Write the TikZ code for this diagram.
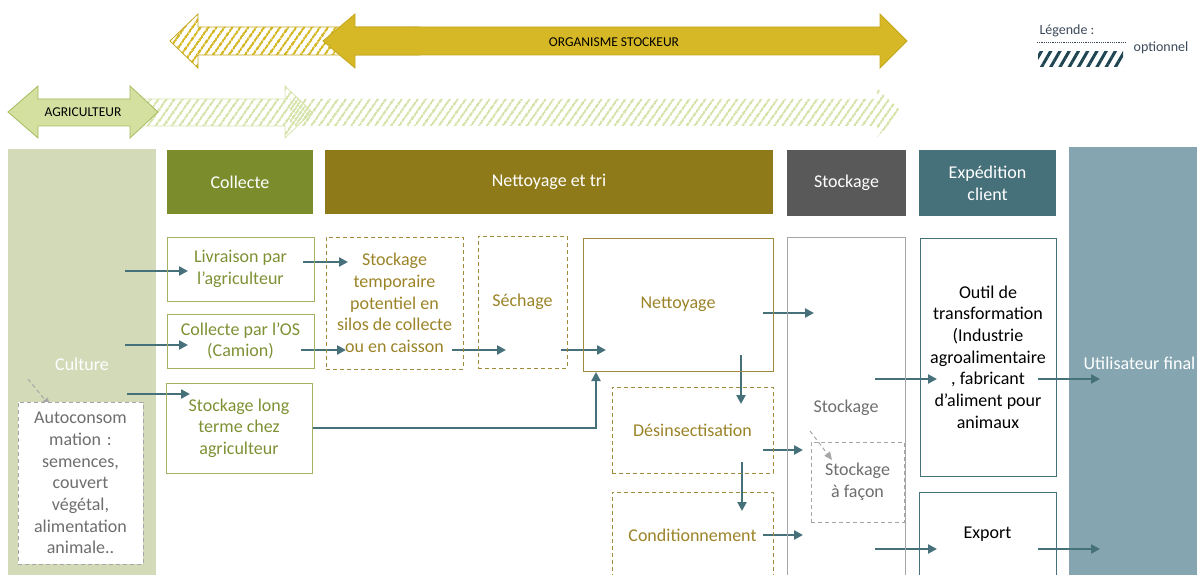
\documentclass[tikz,border=0pt]{standalone}
\usepackage{fontspec}
\setmainfont{Carlito}
\usepackage{xcolor}
\usetikzlibrary{arrows.meta}
\usetikzlibrary{patterns.meta}
\usetikzlibrary{backgrounds,positioning}
\pgfdeclarelayer{edgelayer}
\pgfdeclarelayer{nodelayer}
\pgfsetlayers{background,edgelayer,nodelayer,main}
\definecolor{culturegreen}{RGB}{211,218,184}
\definecolor{collecteolive}{RGB}{123,140,44}
\definecolor{tribrown}{RGB}{143,122,25}
\definecolor{stockgrey}{RGB}{89,89,89}
\definecolor{expteal}{RGB}{70,112,122}
\definecolor{userblue}{RGB}{133,166,177}
\definecolor{flowteal}{RGB}{70,112,122}
\definecolor{txtolive}{RGB}{125,145,52}
\definecolor{boxolive}{RGB}{163,178,96}
\definecolor{txtgold}{RGB}{155,131,40}
\definecolor{boxgold}{RGB}{160,139,60}
\definecolor{txtgrey}{RGB}{110,110,110}
\definecolor{boxgrey}{RGB}{166,166,166}
\definecolor{osyellow}{RGB}{214,184,38}
\definecolor{osyellowline}{RGB}{196,166,30}
\definecolor{agrigreen}{RGB}{211,224,160}
\definecolor{agrigreenline}{RGB}{165,188,95}
\definecolor{hatchgreen}{RGB}{214,228,172}
\definecolor{legslate}{RGB}{59,74,90}
\definecolor{leghatch}{RGB}{31,68,82}
\tikzstyle{none}=[inner sep=0mm]
\tikzstyle{txt}=[font=\fontsize{18}{21.7}\selectfont, align=center]
\tikzstyle{column}=[txt, inner sep=0pt, text=white]
\tikzstyle{head}=[txt, inner sep=0pt, text=white]
\tikzstyle{olivebox}=[txt, inner sep=0pt, draw=boxolive, line width=1pt, text=txtolive]
\tikzstyle{goldbox}=[txt, inner sep=0pt, draw=boxgold, line width=1pt, text=txtgold]
\tikzstyle{optgold}=[goldbox, dash pattern=on 4pt off 3pt]
\tikzstyle{greybox}=[txt, inner sep=0pt, draw=boxgrey, line width=1pt, text=txtgrey]
\tikzstyle{optgrey}=[greybox, fill=white, dash pattern=on 4pt off 3pt]
\tikzstyle{tealbox}=[txt, inner sep=0pt, draw=flowteal, line width=1pt, text=black]
\tikzstyle{flow}=[draw=flowteal, line width=2.6pt, -{Triangle[length=9pt,width=9pt]}]
\tikzstyle{optflow}=[draw=boxgrey, line width=1pt, dash pattern=on 4pt off 3pt, -{Triangle[length=8pt,width=7pt]}]
\tikzstyle{band}=[font=\fontsize{13.5}{16}\selectfont, inner sep=0pt]
\tikzstyle{legtext}=[band, text=legslate, font=\fontsize{14}{16}\selectfont]
\tikzset{
	hatch/.style={pattern={Lines[angle=55,distance=6.5pt,line width=2.6pt]}, pattern color=#1}
}

\begin{document}
\begin{tikzpicture}[x=1pt, y=-1pt]
	\useasboundingbox (0, 0) rectangle (1197, 575);
	% actor bands
	\draw [hatch=osyellow, draw=osyellowline, line width=0.8pt] (170, 41) -- (198, 14) -- (198, 27) -- (420, 27) -- (420, 55) -- (198, 55) -- (198, 68) -- cycle;
	\draw [fill=osyellow, draw=osyellowline, line width=0.8pt] (323, 41) -- (355, 14) -- (355, 27) -- (880, 27) -- (880, 14) -- (907, 41) -- (880, 68) -- (880, 55) -- (355, 55) -- (355, 68) -- cycle;
	\fill [hatch=hatchgreen] (290, 99) -- (877, 99) -- (877, 88) -- (902, 112) -- (877, 137) -- (877, 126) -- (290, 126) -- cycle;
	\draw [hatch=hatchgreen, draw=hatchgreen, line width=0.8pt] (130, 99) -- (285, 99) -- (285, 86) -- (312, 112) -- (285, 138) -- (285, 126) -- (130, 126) -- cycle;
	\draw [fill=agrigreen, draw=agrigreenline, line width=0.8pt] (8, 112) -- (38, 86) -- (38, 99) -- (130, 99) -- (130, 86) -- (158, 112) -- (130, 138) -- (130, 126) -- (38, 126) -- (38, 138) -- cycle;
	\node [style=band] (os) at (614, 42) {ORGANISME STOCKEUR};
	\node [style=band] (agri) at (83, 112) {AGRICULTEUR};
	% legende
	\node [style=legtext] (leg) at (1067, 31) {Légende :};
	\node [style=legtext] (optleg) at (1161, 48) {optionnel};
	\coordinate (dl) at (1037, 42);
	\coordinate (dr) at (1126, 42);
	\draw [legslate, line width=0.8pt, dash pattern=on 1.2pt off 1pt] (dl) to (dr);
	\fill [pattern={Lines[angle=60,distance=8pt,line width=3pt]}, pattern color=leghatch] (1038, 52) rectangle (1123, 67);
	\begin{pgfonlayer}{background}
		\node [style=column, fill=culturegreen, minimum width=148pt, minimum height=431pt] (culture) at (82, 364.5) {Culture};
		\node [style=column, fill=userblue, minimum width=141pt, minimum height=433pt] (user) at (1139.5, 363.5) {Utilisateur final};
		\node [style=head, fill=collecteolive, minimum width=146pt, minimum height=64pt] (hcollecte) at (240, 182) {Collecte};
		\node [style=head, fill=tribrown, minimum width=448pt, minimum height=64pt] (htri) at (549, 182) {Nettoyage et tri};
		\node [style=head, fill=stockgrey, minimum width=119pt, minimum height=66pt] (hstock) at (846.5, 183) {Stockage};
		\node [style=head, fill=expteal, minimum width=137pt, minimum height=66pt] (hexp) at (987.5, 183) {Expédition\\client};
	\end{pgfonlayer}
	\begin{pgfonlayer}{nodelayer}
		\node [style=optgrey, text width=118pt, minimum width=125pt, minimum height=162pt] (autoconso) at (80.5, 483) {Autoconsom\\mation :\\semences,\\couvert\\végétal,\\alimentation\\animale..};
		\node [style=olivebox, minimum width=147pt, minimum height=64pt] (livraison) at (240.5, 269) {Livraison par\\l’agriculteur};
		\node [style=olivebox, minimum width=147pt, minimum height=54pt] (collecteos) at (240.5, 341) {Collecte par l’OS\\(Camion)};
		\node [style=olivebox, minimum width=146pt, minimum height=90pt] (stocklong) at (239, 428) {Stockage long\\terme chez\\agriculteur};
		\node [style=optgold, minimum width=137pt, minimum height=132pt] (stocktemp) at (394.5, 303) {Stockage\\temporaire\\potentiel en\\silos de collecte\\ou en caisson};
		\node [style=optgold, minimum width=89pt, minimum height=132pt] (sechage) at (522.5, 302) {Séchage};
		\node [style=goldbox, minimum width=190pt, minimum height=133pt] (nettoyage) at (678, 304.5) {Nettoyage};
		\node [style=optgold, minimum width=161pt, minimum height=86pt] (desinsect) at (692.5, 430) {Désinsectisation};
		\node [style=optgold, minimum width=161pt, minimum height=86pt] (condition) at (692.5, 535) {Conditionnement};
		\node [style=greybox, minimum width=118pt, minimum height=353pt] (stockage) at (846, 413.5) {};
		\node [style=none, txt, text=txtgrey] (stocklabel) at (846, 408) {Stockage};
		\node [style=optgrey, fill=none, minimum width=93pt, minimum height=80pt] (facon) at (857.5, 482) {Stockage\\à façon};
		\node [style=tealbox, minimum width=136pt, minimum height=238pt] (outil) at (988, 357) {Outil de\\transformation\\(Industrie\\agroalimentaire\\, fabricant\\d’aliment pour\\animaux};
		\node [style=tealbox, minimum width=137pt, minimum height=84pt] (export) at (987.5, 534) {Export};
		\node [style=none] (c1) at (125, 271) {};
		\node [style=none] (l1) at (188, 271) {};
		\node [style=none] (c2) at (125, 345) {};
		\node [style=none] (o1) at (188, 345) {};
		\node [style=none] (c3) at (127, 394) {};
		\node [style=none] (s1) at (190, 394) {};
		\node [style=none] (l2) at (303, 262) {};
		\node [style=none] (t1) at (348, 262) {};
		\node [style=none] (o2) at (301, 350) {};
		\node [style=none] (t2) at (346, 350) {};
		\node [style=none] (t3) at (452, 350) {};
		\node [style=none] (e1) at (506, 350) {};
		\node [style=none] (e2) at (561, 350) {};
		\node [style=none] (n1) at (606, 350) {};
		\node [style=none] (n2) at (596, 372) {};
		\node [style=none] (n3) at (763, 313) {};
		\node [style=none] (k1) at (814, 313) {};
		\node [style=none] (n4) at (741, 355) {};
		\node [style=none] (d1) at (741, 404) {};
		\node [style=none] (d2) at (763, 450) {};
		\node [style=none] (k2) at (803, 450) {};
		\node [style=none] (d3) at (742, 462) {};
		\node [style=none] (q1) at (742, 511) {};
		\node [style=none] (q2) at (763, 535) {};
		\node [style=none] (k3) at (803, 535) {};
		\node [style=none] (k4) at (875, 379) {};
		\node [style=none] (x1) at (937, 379) {};
		\node [style=none] (x2) at (1038, 379) {};
		\node [style=none] (u1) at (1100, 379) {};
		\node [style=none] (k5) at (875, 549) {};
		\node [style=none] (x3) at (937, 549) {};
		\node [style=none] (x4) at (1038, 549) {};
		\node [style=none] (u2) at (1100, 549) {};
		\node [style=none] (c4) at (28, 379) {};
		\node [style=none] (a1) at (50, 406) {};
		\node [style=none] (k6) at (810, 431) {};
		\node [style=none] (f1) at (832, 460) {};
	\end{pgfonlayer}
	\begin{pgfonlayer}{edgelayer}
		\draw [style=flow] (c1.center) to (l1.center);
		\draw [style=flow] (c2.center) to (o1.center);
		\draw [style=flow] (c3.center) to (s1.center);
		\draw [style=flow] (l2.center) to (t1.center);
		\draw [style=flow] (o2.center) to (t2.center);
		\draw [style=flow] (t3.center) to (e1.center);
		\draw [style=flow] (e2.center) to (n1.center);
		\draw [style=flow, line width=2pt] (stocklong.east) -| (n2.center);
		\draw [style=flow] (n3.center) to (k1.center);
		\draw [style=flow] (n4.center) to (d1.center);
		\draw [style=flow] (d2.center) to (k2.center);
		\draw [style=flow] (d3.center) to (q1.center);
		\draw [style=flow] (q2.center) to (k3.center);
		\draw [style=flow] (k4.center) to (x1.center);
		\draw [style=flow] (x2.center) to (u1.center);
		\draw [style=flow] (k5.center) to (x3.center);
		\draw [style=flow] (x4.center) to (u2.center);
		\draw [style=optflow] (c4.center) to (a1.center);
		\draw [style=optflow] (k6.center) to (f1.center);
	\end{pgfonlayer}
\end{tikzpicture}
\end{document}
